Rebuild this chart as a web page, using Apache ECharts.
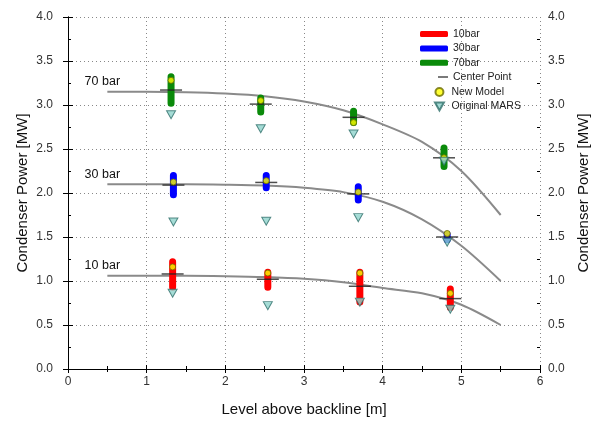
<!DOCTYPE html>
<html><head><meta charset="utf-8">
<script src="https://cdn.jsdelivr.net/npm/echarts@6/dist/echarts.min.js"></script>
<style>html,body{margin:0;padding:0;background:#fff}#c{width:599px;height:427px}</style>
</head><body><div id="c"></div>
<script>
// Model curves
const curveX  = [0.5, 1, 1.5, 2, 2.5, 3, 3.5, 4, 4.5, 5, 5.5];
const curve70 = [3.15, 3.15, 3.145, 3.13, 3.10, 3.04, 2.94, 2.78, 2.58, 2.25, 1.75];
const curve30 = [2.10, 2.10, 2.10, 2.095, 2.085, 2.06, 2.01, 1.90, 1.70, 1.40, 1.00];
const curve10 = [1.06, 1.06, 1.06, 1.055, 1.045, 1.025, 0.985, 0.92, 0.86, 0.73, 0.50];
const curveLabels = ['70 bar', '30 bar', '10 bar'];

// Measurement positions
const x70 = [1.31, 2.45, 3.63, 4.78];
const x30 = [1.34, 2.52, 3.69, 4.82];
const x10 = [1.33, 2.54, 3.71, 4.86];

// Measurement ranges
const min70 = [3.02, 2.92, 2.80, 2.30], max70 = [3.32, 3.08, 2.93, 2.51];
const min30 = [1.98, 2.06, 1.92, 1.47], max30 = [2.20, 2.20, 2.07, 1.53];
const min10 = [0.93, 0.93, 0.76, 0.70], max10 = [1.22, 1.10, 1.10, 0.91];

// Center points
const center70 = [3.17, 3.01, 2.86, 2.40];
const center30 = [2.09, 2.12, 1.99, 1.50];
const center10 = [1.08, 1.02, 0.94, 0.80];

// New model
const new70 = [3.28, 3.05, 2.80, 2.40];
const new30 = [2.125, 2.14, 2.01, 1.54];
const new10 = [1.16, 1.09, 1.09, 0.86];

// Original MARS
const mars70 = [2.89, 2.73, 2.67, 2.36];
const mars30 = [1.67, 1.68, 1.72, 1.44];
const mars10 = [0.86, 0.72, 0.76, 0.68];

const FONT = 'Liberation Sans, Arial, sans-serif';

function rangeData(xs, mins, maxs) {
  const d = [];
  xs.forEach((x, i) => { d.push([x, mins[i]], [x, maxs[i]], [x, '-']); });
  return d;
}
function pts(xs, ys) { return xs.map((x, i) => [x, ys[i]]); }
function curve(ys, label) {
  return curveX.map((x, i) => i === 0 ? {
    value: [x, ys[i]],
    label: { show: true, formatter: label, position: 'top', distance: 3, offset: [-5, 0],
             fontSize: 12.5, color: '#111', fontFamily: FONT }
  } : [x, ys[i]]);
}

const chart = echarts.init(document.getElementById('c'), null, { renderer: 'canvas' });
const lineBlack = { show: true, lineStyle: { color: '#000', width: 1 } };
const labelStyle = { color: '#333', fontSize: 12, fontFamily: FONT };
const nameStyle = { color: '#111', fontSize: 15, fontFamily: FONT };
const grid = { lineStyle: { color: '#888', type: [1, 3] } };
const fmt1 = v => v.toFixed(1);
const triPath = 'path://M0,0L10,0L5,9Z';

chart.setOption({
  animation: false,
  backgroundColor: '#fff',
  grid: { left: 68, right: 59, top: 17, bottom: 58 },
  xAxis: [
    { type: 'value', min: 0, max: 6, interval: 1, position: 'bottom',
      axisLine: lineBlack,
      axisTick: { show: true, length: 4, lineStyle: { color: '#000' } },
      minorTick: { show: false },
      axisLabel: Object.assign({ margin: 7 }, labelStyle),
      name: 'Level above backline [m]', nameLocation: 'middle', nameGap: 33, nameTextStyle: nameStyle,
      splitLine: Object.assign({ show: true }, grid) },
    { type: 'value', min: 0, max: 6, interval: 1, position: 'top',
      axisLine: lineBlack,
      axisTick: { show: true, inside: true, length: 4, lineStyle: { color: '#000' } },
      minorTick: { show: true, splitNumber: 2, length: 3, lineStyle: { color: '#000' } },
      axisLabel: { show: false }, splitLine: { show: false } },
    { type: 'value', min: 0, max: 6, interval: 1, position: 'bottom',
      axisLine: { show: false },
      axisTick: { show: true, inside: true, length: 4, lineStyle: { color: '#000' } },
      minorTick: { show: true, splitNumber: 2, length: 3, lineStyle: { color: '#000' } },
      axisLabel: { show: false }, splitLine: { show: false } }
  ],
  yAxis: [
    { type: 'value', min: 0, max: 4, interval: 0.5, position: 'left',
      axisLine: lineBlack,
      axisTick: { show: true, length: 5, lineStyle: { color: '#000' } },
      minorTick: { show: false },
      axisLabel: Object.assign({ margin: 15, formatter: fmt1 }, labelStyle),
      name: 'Condenser Power [MW]', nameLocation: 'middle', nameGap: 38, nameRotate: 90,
      nameMoveOverlap: false,
      nameTextStyle: nameStyle,
      splitLine: Object.assign({ show: true }, grid) },
    { type: 'value', min: 0, max: 4, interval: 0.5, position: 'right',
      axisLine: lineBlack,
      axisTick: { show: true, length: 5, lineStyle: { color: '#000' } },
      minorTick: { show: false },
      axisLabel: Object.assign({ margin: 8, formatter: fmt1 }, labelStyle),
      name: 'Condenser Power [MW]', nameLocation: 'middle', nameGap: 36, nameRotate: 90,
      nameTextStyle: nameStyle,
      splitLine: { show: false } },
    { type: 'value', min: 0, max: 4, interval: 0.5, position: 'left',
      axisLine: { show: false },
      axisTick: { show: false, inside: true },
      minorTick: { show: true, splitNumber: 2, length: 3, lineStyle: { color: '#000' } },
      axisLabel: { show: false }, splitLine: { show: false } },
    { type: 'value', min: 0, max: 4, interval: 0.5, position: 'right',
      axisLine: { show: false },
      axisTick: { show: false, inside: true },
      minorTick: { show: true, splitNumber: 2, length: 3, lineStyle: { color: '#000' } },
      axisLabel: { show: false }, splitLine: { show: false } }
  ],
  legend: [
    { orient: 'vertical', left: 415, top: 23, itemWidth: 28, itemHeight: 6, itemGap: 2.4,
      icon: 'roundRect',
      textStyle: { fontSize: 10.5, color: '#222', fontFamily: FONT, lineHeight: 12 },
      data: ['10bar', '30bar', '70bar'] },
    { orient: 'vertical', left: 433, top: 66, itemWidth: 10, itemHeight: 1.5, itemGap: 2.4,
      textStyle: { fontSize: 10.5, color: '#222', fontFamily: FONT, lineHeight: 12 },
      data: ['Center Point'] },
    { orient: 'vertical', left: 429, top: 81, itemWidth: 14, itemHeight: 8, itemGap: 2.4,
      textStyle: { fontSize: 10.5, color: '#222', fontFamily: FONT, lineHeight: 12 },
      data: ['New Model', 'Original MARS'] }
  ],
  series: [
    ...[[curve70, curveLabels[0]], [curve30, curveLabels[1]], [curve10, curveLabels[2]]].map(([ys, lb]) => ({
      type: 'line', name: 'curve ' + lb, data: curve(ys, lb), smooth: 0.3,
      symbol: 'circle', symbolSize: 1, showSymbol: true,
      itemStyle: { color: 'rgba(0,0,0,0)' },
      lineStyle: { color: '#8a8a8a', width: 2 }, z: 2, silent: true
    })),
    { type: 'line', name: '10bar', data: rangeData(x10, min10, max10), connectNulls: false,
      symbol: 'none', color: '#ff0000', lineStyle: { color: '#ff0000', width: 7, cap: 'round' }, z: 3 },
    { type: 'line', name: '30bar', data: rangeData(x30, min30, max30), connectNulls: false,
      symbol: 'none', color: '#0000ff', lineStyle: { color: '#0000ff', width: 7, cap: 'round' }, z: 3 },
    { type: 'line', name: '70bar', data: rangeData(x70, min70, max70), connectNulls: false,
      symbol: 'none', color: '#0a8a0a', lineStyle: { color: '#0a8a0a', width: 7, cap: 'round' }, z: 3 },
    { type: 'scatter', name: 'Center Point', symbol: 'rect', symbolSize: [22, 1.5],
      itemStyle: { color: '#222' }, z: 4,
      data: [...pts(x10, center10), ...pts(x30, center30), ...pts(x70, center70)] },
    { type: 'scatter', name: 'New Model', symbol: 'circle', symbolSize: 6,
      itemStyle: { color: '#ffff00', borderColor: '#6b6b00', borderWidth: 1 }, z: 5,
      data: [...pts(x10, new10), ...pts(x30, new30), ...pts(x70, new70)] },
    { type: 'scatter', name: 'Original MARS', symbol: triPath, symbolSize: [9, 8],
      itemStyle: { color: '#8fd3cc', borderColor: '#2f6f6a', borderWidth: 1 }, z: 5,
      data: [...pts(x10, mars10), ...pts(x30, mars30), ...pts(x70, mars70)] }
  ]
});
</script>
</body></html>
